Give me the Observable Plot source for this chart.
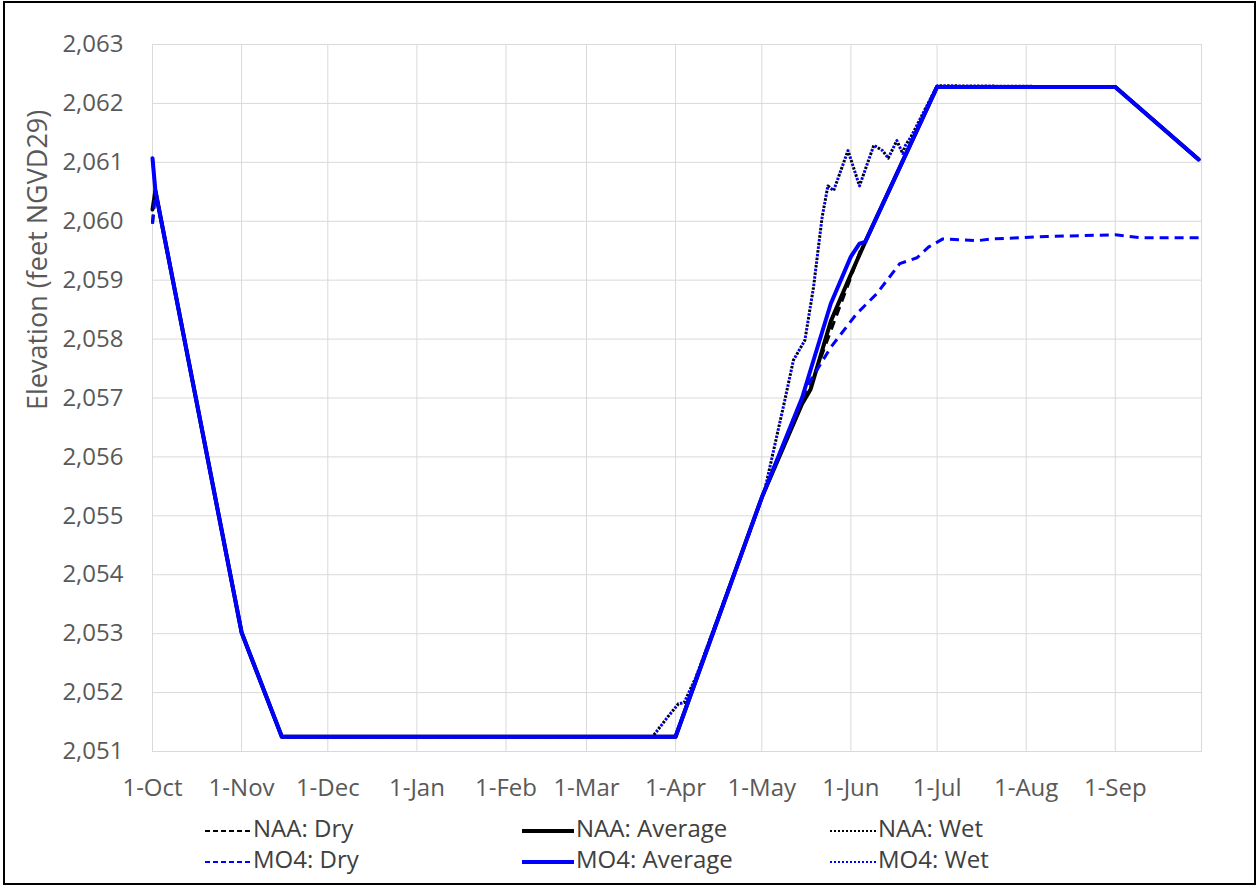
<!DOCTYPE html>
<html>
<head>
<meta charset="utf-8">
<script src="https://cdn.jsdelivr.net/npm/d3@7"></script>
<script src="https://cdn.jsdelivr.net/npm/@observablehq/plot@0.6"></script>
<style>
  html, body { margin: 0; padding: 0; background: #fff; }
  #frame { position: absolute; left: 3px; top: 1px; width: 1249px; height: 880px; border: 2px solid #000; }
  #chart { position: absolute; left: 0; top: 0; }
  .leg { position: absolute; font-family: "Open Sans", sans-serif; font-size: 24px; color: #404040; white-space: nowrap; line-height: 28px; }
  .leg svg { vertical-align: middle; margin-right: 2px; }
</style>
</head>
<body>
<div id="frame"></div>
<div id="chart"></div>
<div id="legend"></div>
<script>
// ---- data (date, elevation in feet NGVD29) ----
const xTickDates = ["2021-10-01","2021-11-01","2021-12-01","2022-01-01","2022-02-01","2022-03-01",
                    "2022-04-01","2022-05-01","2022-06-01","2022-07-01","2022-08-01","2022-09-01"];
const yTicks = [2051,2052,2053,2054,2055,2056,2057,2058,2059,2060,2061,2062,2063];

const naaDry = [
  ["2021-10-01",2059.96],["2021-10-02",2060.52],["2021-11-01",2053.02],["2021-11-15",2051.25],
  ["2022-04-01",2051.25],["2022-05-01",2055.31],["2022-05-15",2056.9],["2022-05-19",2057.35],
  ["2022-05-27",2058.4],["2022-06-01",2059.05],["2022-06-05",2059.6],["2022-06-06",2059.65],
  ["2022-07-01",2062.28],["2022-09-01",2062.28],["2022-09-30",2061.05]
];
const naaAverage = [
  ["2021-10-01",2060.2],["2021-10-02",2060.52],["2021-11-01",2053.02],["2021-11-15",2051.25],
  ["2022-04-01",2051.25],["2022-05-01",2055.31],["2022-05-15",2056.9],["2022-05-18",2057.15],
  ["2022-05-25",2058.3],["2022-06-01",2059.1],["2022-06-06",2059.65],
  ["2022-07-01",2062.28],["2022-09-01",2062.28],["2022-09-30",2061.05]
];
const naaWet = [
  ["2021-10-01",2061.07],["2021-10-02",2060.52],["2021-11-01",2053.02],["2021-11-15",2051.25],
  ["2022-03-24",2051.25],["2022-03-29",2051.57],["2022-04-02",2051.81],["2022-04-04",2051.83],
  ["2022-04-08",2052.25],["2022-05-02",2055.43],["2022-05-09",2056.96],["2022-05-12",2057.64],
  ["2022-05-16",2057.98],["2022-05-19",2058.88],["2022-05-22",2060.07],["2022-05-24",2060.6],
  ["2022-05-26",2060.52],["2022-05-31",2061.2],["2022-06-04",2060.6],["2022-06-09",2061.29],
  ["2022-06-12",2061.2],["2022-06-14",2061.07],["2022-06-17",2061.37],["2022-06-19",2061.15],
  ["2022-06-20",2061.29],["2022-06-22",2061.44],["2022-07-01",2062.3],["2022-09-01",2062.28],
  ["2022-09-30",2061.05]
];
const mo4Dry = [
  ["2021-10-01",2059.96],["2021-10-02",2060.52],["2021-11-01",2053.02],["2021-11-15",2051.25],
  ["2022-04-01",2051.25],["2022-05-01",2055.31],["2022-05-15",2057.0],["2022-05-18",2057.3],
  ["2022-05-25",2057.86],["2022-06-03",2058.43],["2022-06-10",2058.77],["2022-06-18",2059.28],
  ["2022-06-24",2059.38],["2022-06-28",2059.56],["2022-07-03",2059.70],["2022-07-15",2059.67],
  ["2022-07-20",2059.70],["2022-08-08",2059.74],["2022-09-01",2059.77],["2022-09-10",2059.72],
  ["2022-09-30",2059.72]
];
const mo4Average = [
  ["2021-10-01",2061.07],["2021-10-02",2060.52],["2021-11-01",2053.02],["2021-11-15",2051.25],
  ["2022-04-01",2051.25],["2022-05-01",2055.31],["2022-05-15",2057.0],["2022-05-25",2058.6],
  ["2022-06-01",2059.4],["2022-06-04",2059.62],["2022-06-06",2059.65],["2022-07-01",2062.28],
  ["2022-09-01",2062.28],["2022-09-30",2061.05]
];
const mo4Wet = [
  ["2021-10-01",2061.07],["2021-10-02",2060.52],["2021-11-01",2053.02],["2021-11-15",2051.25],
  ["2022-03-24",2051.25],["2022-03-29",2051.57],["2022-04-02",2051.81],["2022-04-04",2051.83],
  ["2022-04-08",2052.25],["2022-05-02",2055.43],["2022-05-09",2056.96],["2022-05-12",2057.64],
  ["2022-05-16",2057.98],["2022-05-19",2058.88],["2022-05-22",2060.07],["2022-05-24",2060.6],
  ["2022-05-26",2060.52],["2022-05-31",2061.2],["2022-06-04",2060.6],["2022-06-09",2061.29],
  ["2022-06-12",2061.2],["2022-06-14",2061.07],["2022-06-17",2061.37],["2022-06-19",2061.15],
  ["2022-06-20",2061.29],["2022-06-22",2061.44],["2022-07-01",2062.3],["2022-09-01",2062.28],
  ["2022-09-30",2061.05]
];

// ---- build ----
const parse = d3.utcParse("%Y-%m-%d");
const rows = s => s.map(([d, v]) => ({date: parse(d), value: v}));

const BLUE = "#0000ff", BLACK = "#000000";
const seriesDefs = [
  {name: "NAA: Dry",     data: naaDry,     stroke: BLACK, width: 3, dash: "9,6",     offset: 0,    legDash: "5,3"},
  {name: "NAA: Average", data: naaAverage, stroke: BLACK, width: 4, dash: null,      offset: 0,    legDash: null},
  {name: "NAA: Wet",     data: naaWet,     stroke: BLACK, width: 3, dash: "2.5,5",   offset: 0,    legDash: "2,2"},
  {name: "MO4: Dry",     data: mo4Dry,     stroke: BLUE,  width: 3, dash: "9,6",     offset: 0,    legDash: "5,3"},
  {name: "MO4: Average", data: mo4Average, stroke: BLUE,  width: 4, dash: null,      offset: 0,    legDash: null},
  {name: "MO4: Wet",     data: mo4Wet,     stroke: BLUE,  width: 3, dash: "2.5,5",   offset: 3.75, legDash: "2,2"}
];

const xTicks = xTickDates.map(parse);

const lineMarks = seriesDefs.map(s => Plot.line(rows(s.data), {
  x: "date", y: "value", stroke: s.stroke, strokeWidth: s.width,
  strokeDasharray: s.dash || undefined,
  strokeDashoffset: s.offset,
  strokeLinecap: s.dash ? "butt" : "round",
  strokeLinejoin: "round"
}));

const chart = Plot.plot({
  width: 1257,
  height: 800,
  marginLeft: 152,
  marginRight: 56,
  marginTop: 44,
  marginBottom: 49,
  style: {fontFamily: "'Open Sans', sans-serif", fontSize: "24px", color: "#595959", background: "transparent", overflow: "visible"},
  x: {type: "utc", domain: [parse("2021-10-01"), parse("2022-10-01")]},
  y: {domain: [2051, 2063]},
  marks: [
    Plot.gridX(xTicks, {stroke: "#d9d9d9", strokeOpacity: 1, strokeWidth: 1}),
    Plot.gridY(yTicks, {stroke: "#d9d9d9", strokeOpacity: 1, strokeWidth: 1}),
    Plot.frame({stroke: "#d9d9d9", strokeWidth: 1}),
    Plot.axisX(xTicks, {tickSize: 0, tickPadding: 27, tickFormat: d3.utcFormat("%-d-%b"), label: null, fontSize: 24, fill: "#595959"}),
    Plot.axisY(yTicks, {tickSize: 0, tickPadding: 29, tickFormat: d3.format(","), label: null, fontSize: 24, fill: "#595959"}),
    Plot.text(["Elevation (feet NGVD29)"], {frameAnchor: "left", text: d => d, rotate: -90, dx: -114, dy: 12, fontSize: 27, fill: "#595959", lineAnchor: "middle"}),
    ...lineMarks
  ]
});
document.getElementById("chart").appendChild(chart);

// ---- legend (HTML below the SVG) ----
const legendPos = [
  {name: "NAA: Dry",     left: 205, top: 814},
  {name: "NAA: Average", left: 522, top: 814},
  {name: "NAA: Wet",     left: 830, top: 814},
  {name: "MO4: Dry",     left: 205, top: 845},
  {name: "MO4: Average", left: 522, top: 845},
  {name: "MO4: Wet",     left: 830, top: 845}
];
const legend = document.getElementById("legend");
legendPos.forEach(p => {
  const s = seriesDefs.find(d => d.name === p.name);
  const div = document.createElement("div");
  div.className = "leg";
  div.style.left = p.left + "px";
  div.style.top = p.top + "px";
  const w = s.dash ? 46 : 52;
  div.innerHTML = `<svg width="${w}" height="10"><line x1="0" x2="${w}" y1="5" y2="5" stroke="${s.stroke}" stroke-width="${s.dash ? 2 : 4}" ${s.legDash ? `stroke-dasharray="${s.legDash}"` : ""}/></svg>${s.name}`;
  legend.appendChild(div);
});
</script>
</body>
</html>
